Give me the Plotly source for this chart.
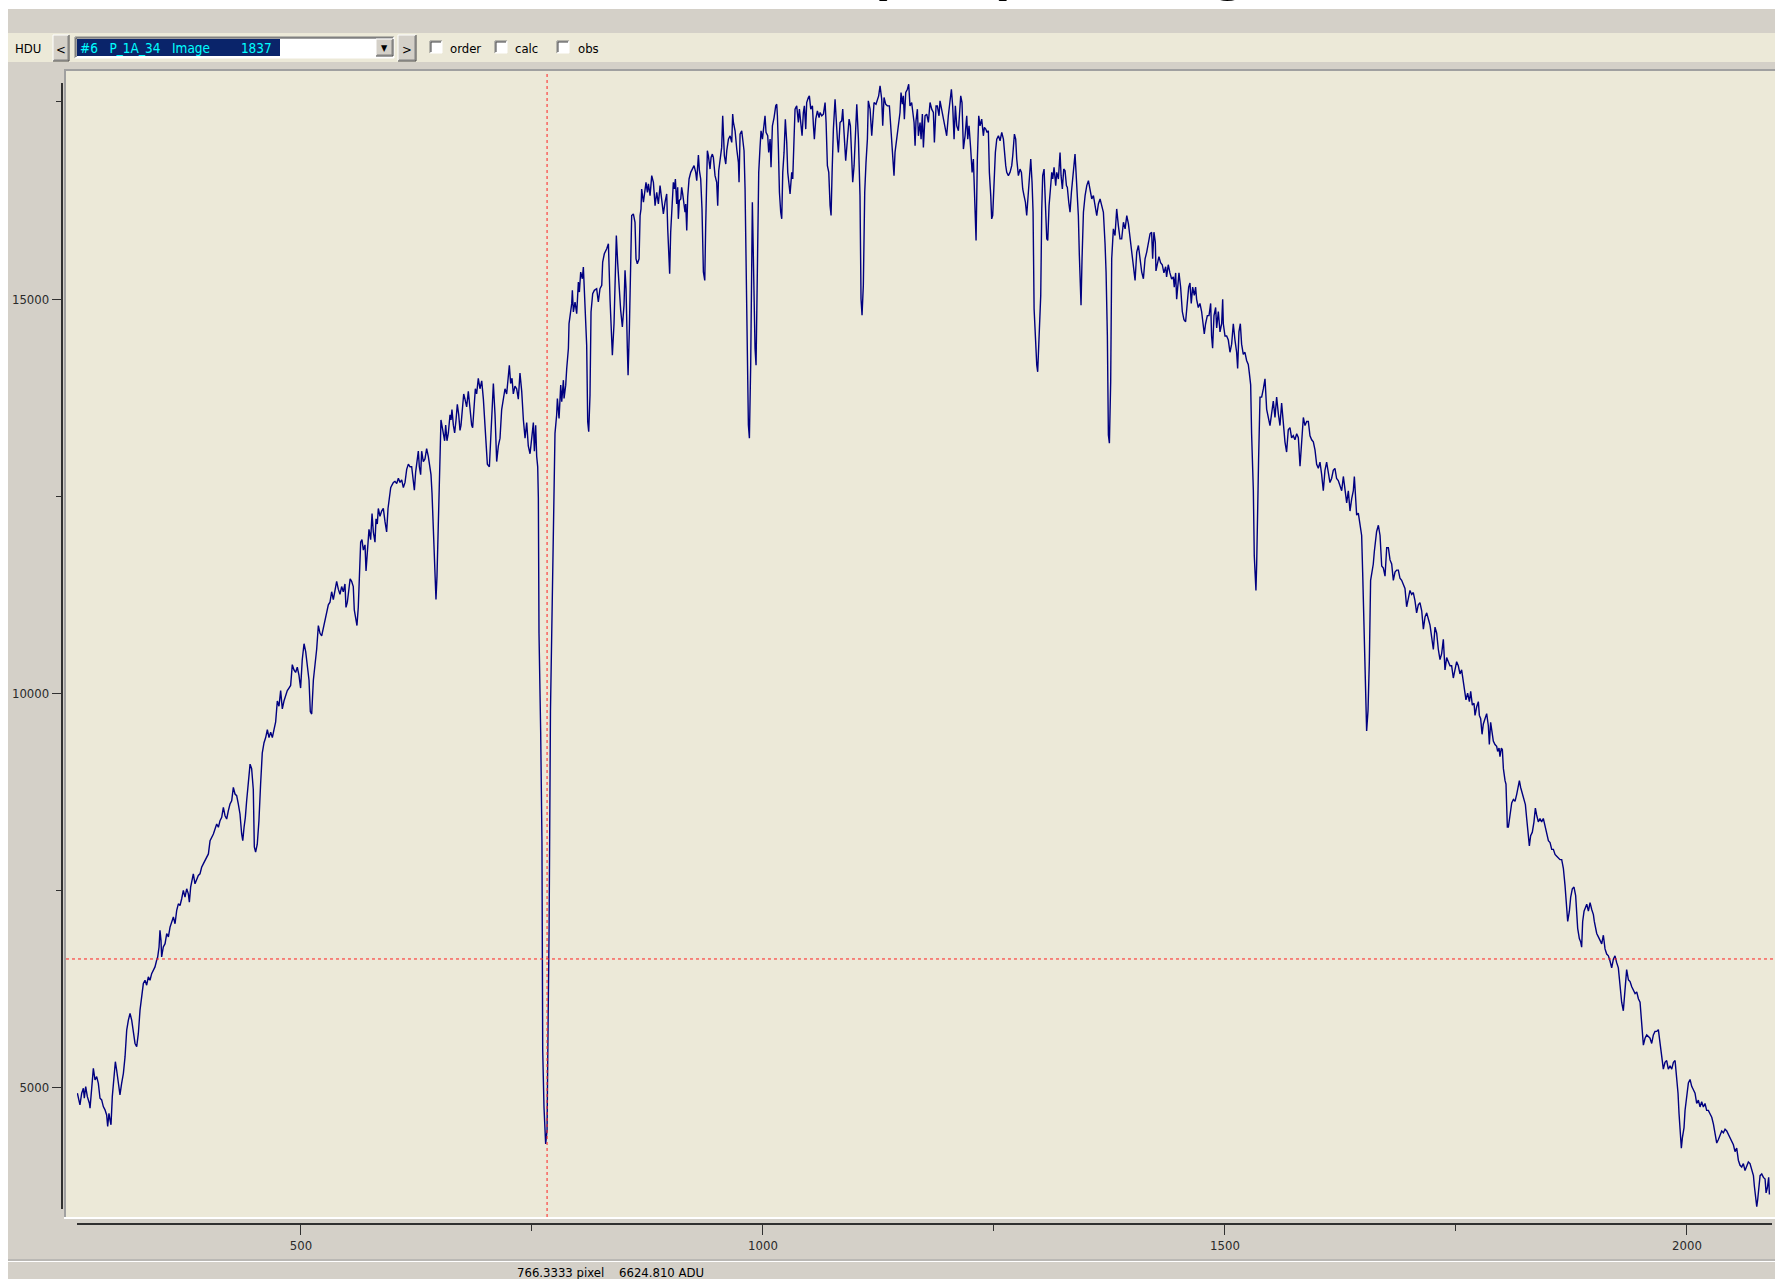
import plotly.graph_objects as go

# ---------------- data: spectrum (pixel, ADU) ----------------
seg_a = [(258,4921),(259.8,4836),(260.8,4773),(262.7,4921),(264.5,4984),(265.5,4857),(267,5005),(268.8,4878),
(271,4794),(271.7,4731),(273.5,4963),(275.3,5237),(277.1,5089),(278.9,5132),(280.7,5047),(282.5,4857),(284.3,4836),
(286.1,4752),(287.9,4710),(289.7,4646),(290.8,4499),(292.2,4667),(293.3,4583),(294.4,4520),(295.8,4878),(297.7,5132),
(299.1,5321),(300.5,5216),(302.3,5047),(304.1,4900),(305.9,5047),(307.8,5174),(309.6,5385),(311.4,5722),(313.2,5849),
(315,5933),(316.8,5849),(318.6,5680),(320.4,5553),(322.2,5511),(324,5680),(325.8,5975),(327.6,6186),(329.4,6313),
(331.2,6355),(333,6292),(334.8,6397),(336.6,6355),(338.4,6439),(340.2,6482),(342,6524),(343.8,6608),(344.9,6650),
(346.4,6777),(347.4,6988),(348.5,6861),(349.2,6650),(351,6777),(352.9,6819),(354.7,6946),(356.5,6904),(358.3,7030),
(360.1,7093),(361.9,7157),(363.7,7072),(365.5,7241),(367.3,7325),(369.1,7304),(370.9,7389),(372.7,7494),(374.5,7410),
(376.3,7515),(378.1,7452),(379.2,7347),(380.6,7536),(382.4,7621),(383.5,7705),(385.3,7579),(387.1,7621),(388.9,7684),
(390.7,7705),(392.5,7789),(394.3,7832),(396.1,7874),(398,7937),(399.8,7958),(401.6,8127),(403.4,8169),(405.2,8211),
(407,8275),(408.8,8338),(410.6,8296),(412.4,8380),(414.2,8422),(416,8549),(417.8,8443),(419.6,8401),(421.4,8507),
(423.2,8591),(425,8633),(426.8,8802),(428.6,8718),(430.4,8697),(432.2,8591),(434,8465),(435.8,8211),(437,8127),
(438.4,8296),(439.8,8422),(441.2,8633),(443,8886),(444.9,9097)]

seg_b = [(446.6,9039),(448.4,8775),(449.5,8048),(450.9,7982),(452.7,8081),(454.5,8378),(456.3,8841),(458.1,9237),
(460,9369),(461.8,9435),(463.6,9535),(465.4,9435),(467.2,9501),(469,9435),(470.8,9535),(472.6,9634),(474.4,9898),
(476.2,9832),(478,10030),(479.8,9799),(481.6,9898),(483.4,9964),(485.2,10030),(487,10063),(488.8,10096),(490.6,10360),
(492.4,10294),(494.2,10261),(496,10327),(497.8,10228),(499.6,10063),(501.4,10426),(503.3,10625),(505.1,10525),
(506.9,10294),(508.7,10162),(510.1,9766),(511.6,9733),(513.4,10162),(515.2,10360),(517,10558),(518.8,10856),
(520.6,10757),(522.4,10724),(524.2,10823),(526,10922),(527.8,11021),(529.6,11120),(531.4,11153),(533.2,11285),
(535,11186),(536.8,11318),(538.6,11417),(540.4,11318),(542.2,11252),(544,11351),(545.8,11285),(547.6,11384),
(548.7,11087),(550.2,11153),(552,11351),(553.2,11450),(554.8,11417),(556.6,11351),(557.7,11054),(559.2,10922),
(560.6,10856),(562,11087),(563.1,11549),(564.6,11913),(566,11946),(567.5,11814),(569.3,11880),(570.4,11549),
(571.8,11781),(573.6,12078),(575.4,11946),(576.9,12276),(578.3,12045),(580.1,11913),(581.2,12210),(582.6,12144),
(583.7,12342),(585.5,12243),(587.3,12309),(589.1,12342),(590.9,12177),(592.7,12045),(594.2,12342),(595.6,12441),
(597.1,12606),(598.5,12639),(600,12672),(601.7,12686),(603.6,12659),(605.4,12725),(607.2,12672),(609,12705),
(610.8,12606),(612.6,12672),(614.4,12838),(616.2,12904),(618,12871),(619.8,12871),(621.6,12705),(622.7,12573),
(624.1,12804),(625.2,12904),(627,13069),(628.1,12871),(629.5,12771),(630.6,13069),(632.4,12937),(634.2,12970),
(636,13102),(637.8,13003),(639.6,12871),(640.7,12771),(641.8,12540),(642.9,12210),(644,11814),(645,11417),
(646.1,11186),(647.2,11483),(648.3,11946),(649.4,12474),(650.5,13135),(651.5,13465),(653,13366),(654.1,13267),
(655.5,13201),(656.6,13399),(658,13201),(659.5,13300),(661.3,13531),(662.4,13465),(663.4,13597),(664.9,13399),
(666.3,13300),(667.8,13465),(669.2,13663),(670.7,13531),(672.1,13333),(673.2,13399),(674.6,13597),(676.1,13795),
(677.5,13729),(679.3,13630),(681.1,13828),(682.9,13597),(684.7,13399),(685.8,13366),(687.3,13696),(688.7,13861),
(690.1,13795),(691.9,13994),(693.7,13861),(695.6,13961),(697.4,13729)]

seg_c = [(699.5,13300),(701.7,12904),(703.9,12870),(706.4,13597),(708.2,13928),(710,13531),(711.8,12937),
(713.6,13135),(715.4,13234),(717.2,13597),(719,13729),(720.8,13861),(722.6,13795),(724.4,14060),(725.5,14159),
(726.9,13928),(728.4,13994),(729.8,13795),(731.6,13894),(733.4,13861),(735.2,13729),(737,14060),(738.9,13828),
(740.7,13465),(742.5,13234),(744.3,13432),(746,13135),(747.9,13036),(749.7,13267),(751.5,13432),(752.6,13069),
(754,13399),(755.1,13003),(756.2,12870),(756.9,12474),(757.6,10759),(759.4,9506),(760.8,8114),(761.6,5468),
(763,4747),(764.8,4278),(766.3,4450),(767.5,5873),(768.5,6987),(770,9766),(771.6,11089),(773,12013)]

seg_d = [(773.9,12958),(774.9,13295),(776.7,13527),(777.5,13738),(779.3,13485),(781.1,13907),(782.2,13696),
(784,13970),(784.7,13738),(786.5,13907),(787.6,14118),(789.4,14371),(790.1,14688),(793,14941),(793.7,15110),
(794.8,14835),(796.6,14962),(798.4,14814),(800.2,15215),(801.3,15088),(802.7,15342),(804.5,15257),(805.6,15405),
(807.4,14962),(809.2,14413),(810.3,13443),(811.4,13317),(812.8,13781),(813.9,14835),(815.7,15067),(817.5,15110),
(820,15131),(821.8,14962),(823.6,15131),(825.5,15173),(826.5,15468),(828.3,15574),(830.9,15637),(832.7,15700),
(834.5,14983),(835.5,14582),(837,14287),(838.8,14688),(840.6,15426),(841.3,15806),(842.8,15447),(844.2,15131),
(846,14856),(847.8,14645),(849.6,14920),(850.7,15363),(851.8,15131),(853.2,14371),(854,14034),(855.4,14624),
(856.8,15510),(857.9,16059),(859.7,16080),(861.5,15974),(862.6,15510),(864,15447),(865.9,15510),(867,16059),
(868,16143),(868.7,16396),(870.6,16228),(872.4,16417),(873.4,16481),(874.9,16354),(876,16460),(877.8,16312),
(879.6,16565),(881.4,16481),(883.2,16185),(885,16354),(886.8,16206),(888.6,16439),(890.4,16291),(892.2,16080),
(894,16228),(895.8,16333),(896.9,15890),(898,15426),(899,15321),(900.1,15848),(901.6,16270),(903,16481),
(904.1,16396),(905.2,16523),(906.6,16206),(907.7,16417),(908.4,16017),(909.5,16249),(911,16270),(912,16417),
(913.1,16333),(914.6,16228),(915.6,16101),(916.4,16206),(917.5,15869),(918.5,16291),(920,16523),(921.8,16607),
(923.6,16649),(925.4,16692),(927.2,16607),(928.3,16502),(930.1,16827),(931.2,16628),(932.6,16523),(934,16143),
(935.5,15342),(937,15236),(938,15932),(939.8,16882),(940.9,16818),(942.7,16649),(943.8,16797),(945.2,16839),
(946.3,16797),(948.1,16565),(949.9,16481),(951,16185),(952.1,16628),(953.5,16755),(955.3,16924),(956.4,17325),
(957.1,17114),(958.2,16818),(959.7,16713),(960.8,16882),(962.6,17029),(964.4,17071),(966.2,16987),(967.2,17346),
(968,17240),(969.8,17135),(971.6,16903),(973.4,16734),(974.1,16481),(975.2,17092),(977,17135),(978.1,17029),
(979.5,16882),(980.6,16396),(981.7,15342),(983.1,14160),(984.2,13401),(985.3,13232),(986.7,14160),(988.5,16228),
(989.6,15342),(991.4,14371),(992.5,14160),(994,15890),(995.4,16607),(996.8,16924),(997.9,17135),(999.4,17029),
(1001.2,17198),(1002.2,17325),(1003.3,17114),(1005.1,17071),(1006.2,16860),(1007.7,17029),(1008.7,16671),
(1010.2,17198),(1012,17303),(1013.8,17451),(1014.9,17472),(1015.6,17325),(1016.7,16903),(1017.8,16354),
(1019.2,16101),(1020.3,16017),(1021.4,16607),(1022.8,16860),(1024.2,17282),(1025.7,16987),(1026.8,16607),
(1028.2,16439),(1029.3,16333),(1031.1,16607),(1032.2,16523),(1033.6,17029),(1034.7,17409),(1036.5,17451),
(1038.3,17240),(1039.4,17409),(1040.8,17240),(1042.3,17071),(1043.7,17367),(1044.8,17451),(1046.3,17156),
(1047.3,17493),(1049.1,17557),(1050.2,17578),(1051.7,17409),(1053.5,17451),(1054.6,17198),(1055.6,17029),
(1057.1,17282),(1058.9,17388),(1060.7,17303),(1061.8,17367),(1063.6,17325),(1065.4,17346),(1067.2,17493),
(1068.3,17240),(1069.7,16692),(1071.2,16607),(1072.6,16185),(1073.7,16059),(1074.8,16607),(1076.2,17156),
(1078,17535),(1079.1,17240),(1080.5,17029),(1081.6,16860),(1083.4,17240),(1085.2,17261),(1086.3,17409),
(1087.7,17114),(1089.5,16755),(1091.4,17029),(1093.2,17282),(1094.6,17198),(1096,16818),(1097.1,16481),
(1098.6,16692),(1100,17029),(1101.5,17472),(1103.3,17029)]

seg_e = [(1105,16312),(1106.1,15004),(1107.2,14793),(1108.6,15173),(1110.1,16354),(1111.5,16734),(1113,17029),
(1114,17514),(1115.9,17409),(1117.7,17071),(1118.7,17282),(1120.2,17493),(1122.3,17472),(1123.8,17535),
(1125.2,17578),(1126.7,17704),(1128.5,17535),(1129.6,17198),(1131,17557),(1132.8,17472),(1134.6,17451),
(1136.8,17451),(1138.2,17198),(1139.7,16903),(1140.4,16734),(1141.8,16565),(1142.9,16860),(1144.7,17029),
(1146.5,17156),(1148.3,17367),(1149.4,17620),(1150.8,17472),(1151.9,17578),(1153,17282),(1154.5,17620),
(1156.3,17662),(1157.7,17725),(1159.1,17451),(1160.9,17493),(1162,17367),(1163.5,17240),(1164.6,16945),
(1165.6,17261),(1167.1,17409),(1168.2,17071),(1170,17240),(1171.1,17029),(1172.5,17346),(1173.6,16924),
(1175.4,17325),(1177.2,17346),(1179,17240),(1180.8,17493),(1182.6,17409),(1184.4,17367),(1185.5,16987),
(1187.3,17451),(1188.7,17451),(1190.5,17325),(1191.6,17514),(1193.4,17409),(1195.2,17325),(1197,17198),
(1198.8,17071),(1200.6,17325),(1202.4,17535),(1203.9,17662),(1205.3,17451),(1206.8,17029),(1208.2,17451),
(1209.7,17198),(1211.5,17135),(1212.5,17325),(1214,17578),(1215.4,17493),(1216.9,16903),(1218.7,17071),
(1220.5,17325),(1221.6,17029),(1223,17198),(1224.8,16903),(1226.3,16607),(1227.7,16776),(1228.8,16312),
(1229.9,16101),(1230.6,15742),(1232,16776),(1233.5,17325),(1234.9,17198),(1236.7,17282),(1238.5,17071),
(1239.6,17177),(1241.1,17156),(1242.5,17114),(1243.9,17135),(1245,16607),(1246.5,16312),(1247.5,16017),
(1248.6,16059),(1250.1,16523),(1251.5,16860),(1253,17029),(1254.8,17071),(1256.6,17008),(1258.4,17114),
(1260.2,17029),(1261.2,16860),(1262.7,16692),(1263.8,16607),(1265.6,16565),(1267.4,16607),(1269.2,16692),
(1270.3,16818),(1272.1,17093),(1273.5,17029),(1274.6,16776),(1276.4,16565),(1278.2,16649),(1279.7,16607),
(1281.1,16396),(1282.5,16312),(1284,16228),(1285.4,16059),(1286.9,16270),(1288.3,16481),(1289.8,16776),
(1291.2,16481),(1292.3,16101),(1293.4,14877),(1294.8,14413),(1296.3,14160),(1297.3,14076),(1298.8,14582),
(1300.6,15046),(1301.7,16143),(1302.7,16565),(1304.2,16649),(1305.6,16270),(1307.1,15764),(1308.2,15742),
(1309.6,16185),(1311.1,16396),(1312.5,16607),(1313.6,16523),(1315,16671),(1316.8,16439),(1317.9,16607),
(1319.7,16523),(1321.5,16860),(1322.6,16565),(1324,16396),(1325.5,16649),(1326.9,16628),(1328.4,16439),
(1329.4,16417),(1330.9,16228),(1332.3,16101),(1333.8,16354),(1335.2,16523),(1336.7,16649),(1337.7,16839),
(1338.8,16607),(1340.3,16312),(1341.3,16059),(1342.4,15553),(1343.1,15131),(1344.2,14920),(1345.3,15510),
(1346.8,16101),(1348.6,16312),(1350.4,16439),(1352.2,16502),(1354,16396),(1355.8,16270),(1357.6,16312),
(1359.4,16185),(1361.2,16059),(1363,16206),(1364.8,16270),(1366.6,16185),(1368.4,16101),(1370.2,15700),
(1371.3,15342),(1372.7,14540),(1373.8,13274),(1374.9,13169),(1376.3,13949),(1377.4,15510),(1379.2,15890),
(1381,15806),(1382.8,16143),(1384.6,15932),(1386.4,15763),(1388.2,15763),(1390.1,15974),(1391.9,15890),
(1393.7,16059),(1395.5,15953),(1397.3,15763),(1399.1,15553),(1400.9,15342),(1402.7,15236),(1404.5,15595),
(1406.3,15679),(1408.1,15510),(1409.9,15342),(1411.7,15257),(1413.5,15510),(1415.3,15595),(1417.1,15721),
(1418.9,15827)]

seg_f = [(1420.6,15848),(1421.7,15512),(1423.1,15848),(1424.6,15719),(1425.3,15357),(1426.7,15461),(1428.5,15538),
(1430.3,15461),(1432.1,15435),(1433.9,15331),(1435.8,15409),(1436.8,15280),(1438.6,15435),(1440.4,15331),
(1442.3,15254),(1444.1,15280),(1445.1,15151),(1446.6,15331),(1447.7,14996),(1450.2,15331),(1452,15151),
(1453.8,14841),(1455.6,14737),(1457.4,14711),(1459.2,14944),(1460.7,15151),(1462.1,15202),(1463.5,14944),
(1465,15151),(1466.8,15047),(1468.2,15151),(1469.3,14996),(1471.1,14892),(1472.9,14944),(1474.7,14841),
(1476.5,14686),(1477.6,14556),(1479,14686),(1480.9,14789),(1482.7,14789),(1484.5,14944),(1485.5,14530),
(1486.6,14375),(1488.1,14789),(1489.9,14892),(1491,14634),(1492.8,14841),(1494.6,14582),(1496.4,14686),
(1497.5,14996),(1498.2,14686),(1500,14530),(1501.8,14530),(1503.6,14479),(1505.4,14324),(1507.2,14427),
(1509,14686),(1510.8,14479),(1512.6,14324),(1513.7,14117),(1515.1,14582),(1516.6,14686),(1518,14427),
(1519.8,14298),(1521.6,14324),(1523.4,14220),(1525.2,14169),(1526.3,14065),(1527.8,13910),(1528.8,13290),
(1530.7,12567),(1531.7,11740),(1533.5,11301),(1534.3,11637),(1535,12205),(1536.4,12981),(1537.9,13755),
(1539.7,13755),(1541.5,13859),(1543.3,13988),(1545.1,13600),(1546.9,13472),(1548.7,13394),(1550.5,13549),
(1552.3,13704),(1554.1,13497),(1555.9,13755),(1557.7,13549),(1559.5,13394),(1561.3,13678),(1562.4,13497),
(1563.8,13290),(1564.9,13187),(1566.7,13058),(1568.5,13342),(1570.3,13368),(1572.1,13239),(1573.9,13265),
(1575.7,13213),(1577.6,13290),(1579.4,13239),(1581.2,12877),(1583,13265),(1584.8,13497),(1586.6,13394),
(1588.4,13445),(1590.2,13445),(1592,13265),(1593.8,13213),(1595.6,13187),(1597.4,13084),(1599.2,12903),
(1601,12851),(1602.8,12929),(1604.6,12774),(1606.4,12567),(1608.2,12825),(1610,12929),(1611.8,12800),
(1613.6,12670),(1615.4,12722),(1617.2,12825),(1619,12851),(1620.8,12722),(1622.6,12696),(1624.5,12619),
(1626.3,12567),(1628.1,12748),(1629.9,12593),(1631.7,12412),(1633.5,12567),(1635.3,12309),(1637.1,12464),
(1638.9,12567),(1640,12748),(1641.4,12464),(1642.5,12257),(1644.3,12283),(1646.1,12154),(1647.9,11999),
(1649,11534),(1650.4,10914),(1651.9,10242),(1653.3,9519),(1654.8,9777),(1656.2,10397),(1657.6,11430),
(1659.1,11534),(1660.5,11637),(1661.6,11792),(1663.1,11999),(1664.1,12050),(1666,12128),(1667.8,11999),
(1669.6,11611),(1671.4,11585),(1673.2,11482),(1675,11844),(1676.8,11844),(1678.6,11689),(1680.4,11637),
(1682.2,11430),(1684,11534),(1685.8,11559),(1687.6,11559),(1689.4,11456),(1691.2,11430),(1693,11379),
(1694.8,11327),(1696.6,11094),(1698.4,11224),(1700.2,11301),(1702,11250),(1703.8,11275),(1705.6,11172),
(1707.4,11017),(1709.2,11120),(1711,11146),(1712.9,11043),(1714.7,10810),(1716.5,10965),(1718.3,11017),
(1720.1,10939),(1721.9,10862),(1723.7,10707),(1725.5,10552),(1727.3,10836),(1729.1,10759),(1730.9,10552),
(1732.7,10423),(1734.5,10500),(1736.3,10681),(1738.1,10294),(1739.9,10449),(1741.7,10397),(1743.5,10345),
(1745.3,10345),(1747.1,10190),(1748.9,10294),(1750.7,10397),(1752.5,10345),(1754.3,10242),(1756.1,10294),
(1757.9,10139),(1759.8,9958)]

seg_g = [(1760.8,9912),(1762.6,9999),(1764.5,9890),(1765.9,10021),(1767.7,9847),(1769.5,9869),(1770.6,9716),
(1772.4,9825),(1774.2,9890),(1775.3,9716),(1776.7,9673),(1778.2,9476),(1779.6,9607),(1781.4,9673),(1783.2,9738),
(1785,9585),(1786.1,9346),(1787.5,9629),(1789.3,9455),(1790.4,9389),(1792.2,9346),(1794,9324),(1795.1,9258),
(1796.6,9302),(1797.6,9193),(1799.1,9302),(1800.2,9280),(1801.3,9040),(1803.1,8888),(1804.1,8844),(1805.6,8299),
(1806.7,8299),(1808.5,8452),(1810.3,8605),(1812.1,8648),(1813.9,8626),(1815.7,8714),(1817.5,8801),(1818.6,8888),
(1820,8801),(1822.2,8714),(1823.6,8648),(1825.1,8583),(1826.5,8408),(1828.3,8234),(1829.4,8060),(1830.8,8190),
(1832.6,8234),(1834.4,8365),(1835.9,8539),(1837.3,8452),(1839.1,8365),(1840.9,8408),(1842.7,8365),(1844.5,8408),
(1846.4,8321),(1848.2,8234),(1850,8125),(1851.8,8103),(1853.6,8016),(1855.4,8016),(1857.2,7951),(1859,7929),
(1860.8,7907),(1862.6,7885),(1864.4,7885),(1866.2,7776),(1868,7558),(1869.8,7319),(1870.9,7101),(1872.7,7231),
(1874.1,7406),(1875.9,7515),(1877.7,7537),(1879.5,7428),(1880.6,7275),(1881.7,7014),(1883.5,6883),(1885,6839),
(1886,6774),(1887.1,7101),(1888.6,7231),(1890,7275),(1891.5,7319),(1893.3,7231),(1895.1,7340),(1896.9,7253),
(1898.7,7188),(1899.7,7101),(1901.2,7014),(1902.3,6948),(1904.1,6905),(1905.9,6861),(1907.7,6817),(1909.5,6926),
(1911.3,6752),(1913.1,6687),(1914.9,6665),(1916.7,6599),(1918.5,6512),(1920.3,6621),(1922.1,6665),(1923.9,6578),
(1925.7,6512),(1927.5,6294),(1929.3,6076),(1931.1,5967),(1932.9,6229),(1934.7,6490),(1936.6,6360),(1938.4,6338),
(1940.2,6272),(1942,6229),(1943.8,6185),(1945.6,6207),(1947.4,6120),(1949.2,6076),(1951,5837),(1952.8,5531),
(1954.6,5619),(1956.4,5662),(1958.2,5640),(1960,5619),(1961.8,5553),(1963.6,5662),(1965.4,5706),(1967.2,5706),
(1969,5728),(1970.8,5575),(1972.6,5444),(1974.4,5226),(1976.2,5314),(1978,5335),(1979.8,5226),(1981.7,5270),
(1983.5,5226),(1985.3,5314),(1987.1,5335),(1988.9,5139),(1990.3,4921),(1991.4,4660),(1992.5,4398),(1993.9,4224),
(1995,4355),(1996.8,4485),(1997.9,4703),(1999.7,4921),(2001.5,5052),(2003.3,5096),(2005.1,5008),(2006.9,4965),
(2008.7,4921),(2010.5,4791),(2012.3,4834),(2014.1,4747),(2015.9,4812),(2017.7,4747),(2019.5,4791),(2021.3,4703),
(2023.1,4703),(2024.9,4660),(2026.8,4616),(2028.6,4529),(2030.4,4398),(2032.2,4289),(2034,4333),(2035.8,4398),
(2037.6,4442),(2039.4,4420),(2041.2,4464),(2043,4442),(2044.8,4398),(2046.6,4333),(2048.4,4311),(2050.2,4267),
(2052,4180),(2053.8,4224),(2055.6,4071),(2057.4,4006),(2059.2,3984),(2061,4028),(2062.8,3940),(2064.6,4006),
(2066.4,4049),(2068.2,4028),(2070,3962),(2071.9,3875),(2072.9,3744),(2074.4,3613),(2075.5,3483),(2076.5,3570),
(2078,3788),(2079.1,3875),(2080.9,3897),(2082.7,3853),(2084.5,3832),(2085.6,3657),(2087,3722),(2088.4,3853),
(2089.2,3635)]

segments = [seg_a, seg_b, seg_c, seg_d, seg_e, seg_f, seg_g]
pixel = [p for seg in segments for p, _ in seg]
adu = [v for seg in segments for _, v in seg]

# axis ticks
x_major = [500, 1000, 1500, 2000]
x_minor = [750, 1250, 1750]
y_major = [5000, 10000, 15000]
y_minor = [7500, 12500, 17500]

# cursor read-out
cursor_pixel = 766.3333
cursor_adu = 6624.810
status_text = "766.3333 pixel    6624.810 ADU"
hdu_text = "#6   P_1A_34   Image        1837"
page_title = "(1A) Image"

# ---------------- layout helpers (window pixels -> paper) ----------------
W, H = 1775, 1279
def fx(p):
    return p / W
def fy(p):
    return 1 - p / H

NARROW = "Liberation Sans Narrow, Arial Narrow, DejaVu Sans Condensed, sans-serif"
GRAY = "#d4d0c8"
BEIGE = "#ece9d8"

shapes = []
def rect(x0, y0, x1, y1, fill, line=None, lw=0):
    shapes.append(dict(type="rect", xref="paper", yref="paper", x0=fx(x0), x1=fx(x1),
                       y0=fy(y1), y1=fy(y0), fillcolor=fill,
                       line=dict(color=line or fill, width=lw), layer="below"))
def seg(x0, y0, x1, y1, color, w=1):
    shapes.append(dict(type="line", xref="paper", yref="paper", x0=fx(x0), x1=fx(x1),
                       y0=fy(y0), y1=fy(y1), line=dict(color=color, width=w), layer="below"))
def raised(x0, y0, x1, y1):
    rect(x0, y0, x1, y1, GRAY)
    seg(x0, y0, x1, y0, "#ffffff"); seg(x0, y0, x0, y1, "#ffffff")
    seg(x0, y1, x1, y1, "#404040"); seg(x1, y0, x1, y1, "#404040")
    seg(x0 + 1, y1 - 1, x1 - 1, y1 - 1, "#808080"); seg(x1 - 1, y0 + 1, x1 - 1, y1 - 1, "#808080")
def sunken_box(x0, y0, x1, y1, fill="#ffffff"):
    rect(x0, y0, x1, y1, fill)
    seg(x0, y0, x1, y0, "#808080"); seg(x0, y0, x0, y1, "#808080")
    seg(x0 + 1, y0 + 1, x1 - 1, y0 + 1, "#404040"); seg(x0 + 1, y0 + 1, x0 + 1, y1 - 1, "#404040")
    seg(x0, y1, x1, y1, "#ffffff"); seg(x1, y0, x1, y1, "#ffffff")

# window background pieces
rect(0, 0, W, 9, "#ffffff")
rect(0, 0, 8, H, "#ffffff")
rect(8, 33, W, 62, BEIGE)
# plot panel with sunken border
rect(64, 69, W + 5, 1219, "#ffffff")
rect(64, 69, W + 5, 1217, "#a0a0a0")
rect(66, 71, W + 5, 1217, BEIGE)
# status bar separator
seg(8, 1260, W, 1260, "#a0a0a0", 1)
seg(8, 1261.5, W, 1261.5, "#ffffff", 1)

# toolbar widgets
raised(53, 35, 69, 61)
sunken_box(75, 37, 394, 58)
rect(77, 39, 280, 56, "#0a246a")
raised(376, 39, 393, 56)
raised(398, 35, 416, 61)
for cx in (430, 495, 557):
    sunken_box(cx, 41, cx + 12, 53)

annotations = []
def text(x, y, s, size=12, color="#000000", family=NARROW, xanchor="left"):
    annotations.append(dict(x=fx(x), y=fy(y), xref="paper", yref="paper", text=s, showarrow=False,
                            xanchor=xanchor, yanchor="middle", font=dict(size=size, color=color, family=family)))

text(13, 48, "HDU", 13)
text(61, 49, "<", 13, xanchor="center")
text(78, 48, hdu_text, 13.5, color="#00ffff")
text(384.5, 48, "▼", 9, xanchor="center")
text(407, 49, ">", 13, xanchor="center")
text(448, 48, "order", 13)
text(513, 48, "calc", 13)
text(576, 48, "obs", 13)
text(515, 1272, status_text, 13)
# heading above the screenshot, cut off by the top edge: only descenders remain
annotations.append(dict(x=fx(856), y=fy(3), xref="paper", yref="paper", text=page_title,
                        showarrow=False, xanchor="left", yanchor="bottom",
                        font=dict(size=90, color="#000000", family="Liberation Sans")))

# red dotted cursor cross-hair
shapes.append(dict(type="line", xref="x", yref="paper", x0=cursor_pixel, x1=cursor_pixel,
                   y0=fy(1217), y1=fy(71), line=dict(color="#ff2020", width=1, dash="dot"), layer="above"))
shapes.append(dict(type="line", xref="paper", yref="y", x0=fx(66), x1=1, y0=cursor_adu, y1=cursor_adu,
                   line=dict(color="#ff2020", width=1, dash="dot"), layer="above"))

fig = go.Figure()
fig.add_trace(go.Scatter(x=pixel, y=adu, mode="lines", line=dict(color="#000080", width=1.4),
                         hoverinfo="skip"))

tickfont = dict(size=13, color="#2a2a2a", family=NARROW)
fig.update_layout(
    width=W, height=H, autosize=False,
    margin=dict(l=0, r=0, t=0, b=0, pad=0),
    paper_bgcolor=GRAY, plot_bgcolor="rgba(0,0,0,0)",
    showlegend=False,
    shapes=shapes, annotations=annotations,
    xaxis=dict(domain=[fx(77), fx(1772)], range=[257.6, 2092.0], anchor="free", position=fy(1224),
               showline=True, linecolor="#303030", linewidth=1.5, showgrid=False, zeroline=False,
               ticks="outside", ticklen=10, tickwidth=1, tickcolor="#303030",
               tickmode="array", tickvals=x_major, ticktext=[str(v) for v in x_major],
               minor=dict(tickmode="array", tickvals=x_minor, ticks="outside", ticklen=6,
                          tickcolor="#303030", showgrid=False),
               tickfont=tickfont, fixedrange=True),
    yaxis=dict(domain=[fy(1209), fy(83)], range=[3452, 17741], anchor="free", position=fx(61.5),
               side="left", showline=True, linecolor="#303030", linewidth=1.5, showgrid=False,
               zeroline=False, ticks="outside", ticklen=9, tickwidth=1, tickcolor="#303030",
               tickmode="array", tickvals=y_major, ticktext=[str(v) for v in y_major],
               minor=dict(tickmode="array", tickvals=y_minor, ticks="outside", ticklen=5,
                          tickcolor="#303030", showgrid=False),
               tickfont=tickfont, fixedrange=True),
)

fig.write_html("out.html", config={"displayModeBar": False})
